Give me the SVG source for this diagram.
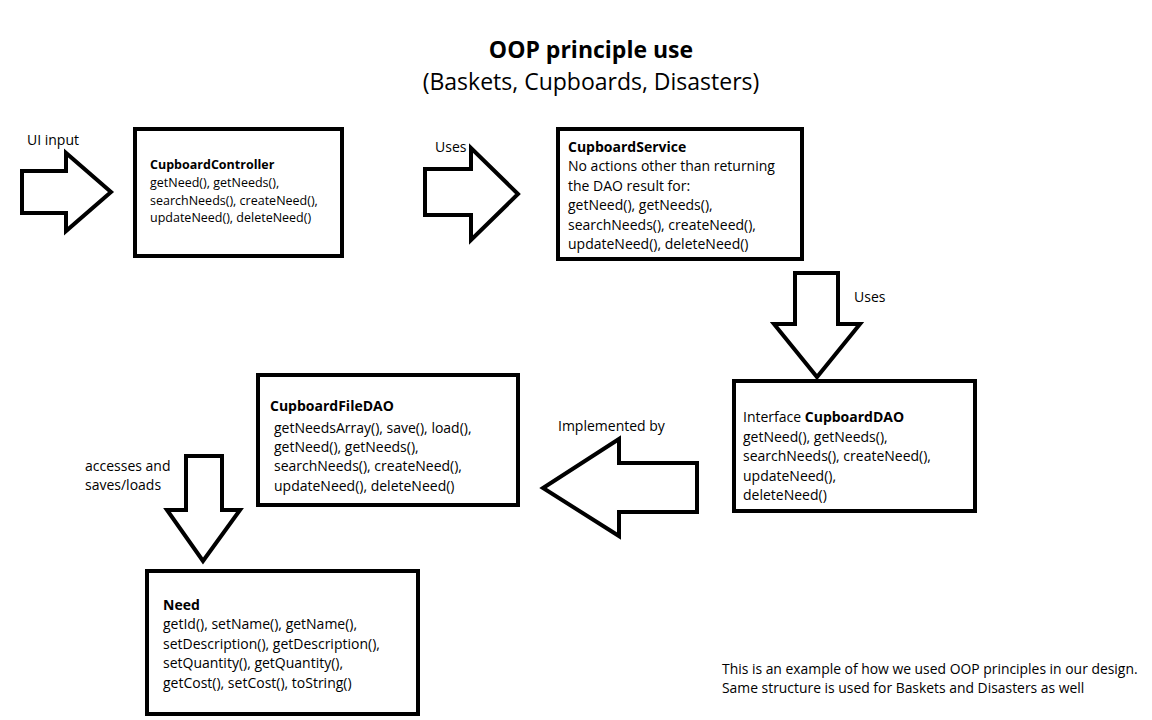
<svg xmlns="http://www.w3.org/2000/svg" width="1152" height="720" viewBox="0 0 1152 720">
<style>
text{font-family:"Open Sans","Noto Sans","Liberation Sans",sans-serif;fill:#000}
.t{font-size:14px}
.s{font-size:12.5px}
.n{font-size:13.9px}
.b{font-weight:bold}
.box{fill:#fff;stroke:#000;stroke-width:4}
.arr{fill:#fff;stroke:#000;stroke-width:4;stroke-linejoin:miter}
.ttl{font-size:23px;text-anchor:middle}
</style>
<rect width="1152" height="720" fill="#fff"/>
<text class="ttl b" x="591" y="58">OOP principle use</text>
<text class="ttl" x="591" y="90">(Baskets, Cupboards, Disasters)</text>

<g id="connectors">
<polygon class="arr" points="22,171 66,171 66,153 111,192 66,231 66,213 22,213"/>
<polygon class="arr" points="425,169 471,169 471,148 518,194 471,240 471,215 425,215"/>
<polygon class="arr" points="795,273 838,273 838,324 860,324 817,377 774,324 795,324"/>
<polygon class="arr" points="697,463 619,463 619,439 543,488 619,536 619,512 697,512"/>
<polygon class="arr" points="186,456 222,456 222,510 240,510 203,561 167,510 186,510"/>
<text class="t" x="27" y="145">UI input</text>
<text class="t" x="435" y="152">Uses</text>
<text class="t" x="854" y="302">Uses</text>
<text class="t" x="558" y="431">Implemented by</text>
<text class="t" x="85" y="471">accesses and</text>
<text class="t" x="85" y="490">saves/loads</text>
</g>

<g id="CupboardController">
<rect class="box" x="135" y="129" width="207" height="127"/>
<text class="s b" x="150" y="169">CupboardController</text>
<text class="s" x="150" y="187">getNeed(), getNeeds(),</text>
<text class="s" x="150" y="205">searchNeeds(), createNeed(),</text>
<text class="s" x="150" y="222">updateNeed(), deleteNeed()</text>
</g>

<g id="CupboardService">
<rect class="box" x="558" y="129" width="244" height="130"/>
<text class="t b" x="568" y="152">CupboardService</text>
<text class="t" x="568" y="171">No actions other than returning</text>
<text class="t" x="568" y="191">the DAO result for:</text>
<text class="t" x="568" y="210">getNeed(), getNeeds(),</text>
<text class="t" x="568" y="230">searchNeeds(), createNeed(),</text>
<text class="t" x="568" y="249">updateNeed(), deleteNeed()</text>
</g>

<g id="CupboardDAO">
<rect class="box" x="734" y="381" width="241" height="130"/>
<text class="t" x="743" y="422">Interface <tspan class="b">CupboardDAO</tspan></text>
<text class="t" x="743" y="442">getNeed(), getNeeds(),</text>
<text class="t" x="743" y="461">searchNeeds(), createNeed(),</text>
<text class="t" x="743" y="481">updateNeed(),</text>
<text class="t" x="743" y="500">deleteNeed()</text>
</g>

<g id="CupboardFileDAO">
<rect class="box" x="258" y="375" width="260" height="130"/>
<text class="t b" x="270" y="411">CupboardFileDAO</text>
<text class="t" x="274" y="433">getNeedsArray(), save(), load(),</text>
<text class="t" x="274" y="452">getNeed(), getNeeds(),</text>
<text class="t" x="274" y="471">searchNeeds(), createNeed(),</text>
<text class="t" x="274" y="491">updateNeed(), deleteNeed()</text>
</g>

<g id="Need">
<rect class="box" x="147" y="571" width="271" height="143"/>
<text class="t b" x="163" y="610">Need</text>
<text class="t" x="163" y="629">getId(), setName(), getName(),</text>
<text class="t" x="163" y="649">setDescription(), getDescription(),</text>
<text class="t" x="163" y="668">setQuantity(), getQuantity(),</text>
<text class="t" x="163" y="688">getCost(), setCost(), toString()</text>
</g>

<g id="note">
<text class="n" x="722" y="674">This is an example of how we used OOP principles in our design.</text>
<text class="n" x="722" y="693">Same structure is used for Baskets and Disasters as well</text>
</g>
</svg>
